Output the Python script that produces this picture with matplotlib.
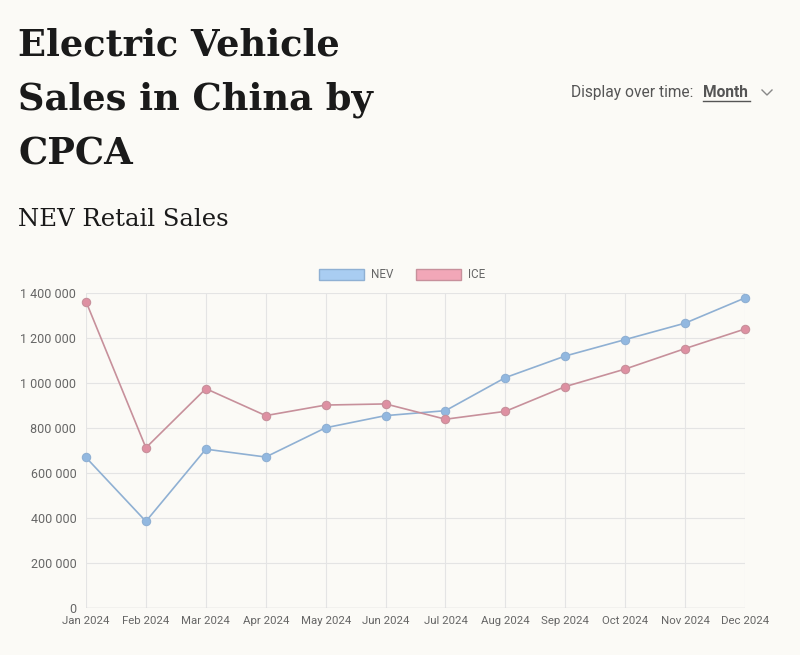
import matplotlib.pyplot as plt
from matplotlib.patches import Patch
from matplotlib.ticker import FuncFormatter

months = ["Jan 2024", "Feb 2024", "Mar 2024", "Apr 2024", "May 2024", "Jun 2024",
          "Jul 2024", "Aug 2024", "Sep 2024", "Oct 2024", "Nov 2024", "Dec 2024"]
nev = [669000, 385000, 706000, 671000, 801000, 855000,
       877000, 1024000, 1120000, 1193000, 1266000, 1378000]
ice = [1362000, 712000, 975000, 855000, 902000, 907000,
       839000, 874000, 984000, 1062000, 1153000, 1240000]
y_ticks = [0, 200000, 400000, 600000, 800000, 1000000, 1200000, 1400000]

bg = '#fbfaf6'
nev_line, nev_dot, nev_fill = '#8fb0d3', '#92b8e0', '#a9cdf2'
ice_line, ice_dot, ice_fill = '#c7909b', '#de90a2', '#f2a7b8'
tick_col = '#666666'

fig = plt.figure(figsize=(8, 6.55), dpi=100, facecolor=bg)
ax = fig.add_axes([86 / 800, 1 - 608 / 655, (745 - 86) / 800, (608 - 293) / 655])
ax.set_facecolor(bg)

x = list(range(len(months)))
ax.plot(x, nev, color=nev_line, lw=1.2, marker='o', ms=6,
        mfc=nev_dot, mec=nev_line, mew=0.8, zorder=3, clip_on=False)
ax.plot(x, ice, color=ice_line, lw=1.2, marker='o', ms=6,
        mfc=ice_dot, mec=ice_line, mew=0.8, zorder=3, clip_on=False)

ax.set_xlim(0, len(months) - 1)
ax.set_ylim(0, 1400000)
ax.set_xticks(x)
ax.set_xticklabels(months)
ax.set_yticks(y_ticks)
ax.yaxis.set_major_formatter(FuncFormatter(lambda v, p: f"{int(v):,}".replace(",", " ")))
ax.grid(True, color='#e4e4e4', lw=0.8)
ax.set_axisbelow(True)
for s in ax.spines.values():
    s.set_visible(False)
ax.axhline(0, color='#d6d6d6', lw=1, zorder=1)
ax.tick_params(axis='x', length=0, labelsize=8.2, colors=tick_col, pad=6)
ax.tick_params(axis='y', length=0, labelsize=9, colors=tick_col, pad=7)
for t in ax.get_xticklabels() + ax.get_yticklabels():
    t.set_family('Roboto')

handles = [Patch(facecolor=nev_fill, edgecolor=nev_line, label='NEV'),
           Patch(facecolor=ice_fill, edgecolor=ice_line, label='ICE')]
fig.legend(handles=handles, loc='center', bbox_to_anchor=(402 / 800, 1 - 275 / 655),
           ncol=2, frameon=False, handlelength=3.8, handleheight=1.1,
           columnspacing=2.0, handletextpad=0.6,
           prop={'family': 'Roboto', 'size': 8.4}, labelcolor=tick_col)

fig.text(18 / 800, 1 - 100 / 655, "Electric Vehicle\nSales in China by\nCPCA",
         family='DejaVu Serif', weight='bold', fontsize=26.5, color='#1a1a1a',
         va='center', ha='left', linespacing=1.66)
fig.text(18 / 800, 1 - 220 / 655, "NEV Retail Sales", family='DejaVu Serif',
         fontsize=17.5, color='#1a1a1a', va='center', ha='left')

fig.text(571 / 800, 1 - 97 / 655, "Display over time:", family='Roboto',
         fontsize=11.2, color='#555555', va='baseline', ha='left')
fig.text(703 / 800, 1 - 97 / 655, "Month", family='Roboto', weight='bold',
         fontsize=11.2, color='#555555', va='baseline', ha='left')
fig.add_artist(plt.Line2D([703 / 800, 750 / 800], [1 - 101 / 655, 1 - 101 / 655],
                          color='#555555', lw=1))
fig.add_artist(plt.Line2D([762 / 800, 767 / 800, 772 / 800],
                          [1 - 90 / 655, 1 - 95 / 655, 1 - 90 / 655],
                          color='#888888', lw=1))

fig.savefig('out.png', dpi=100, facecolor=bg)
